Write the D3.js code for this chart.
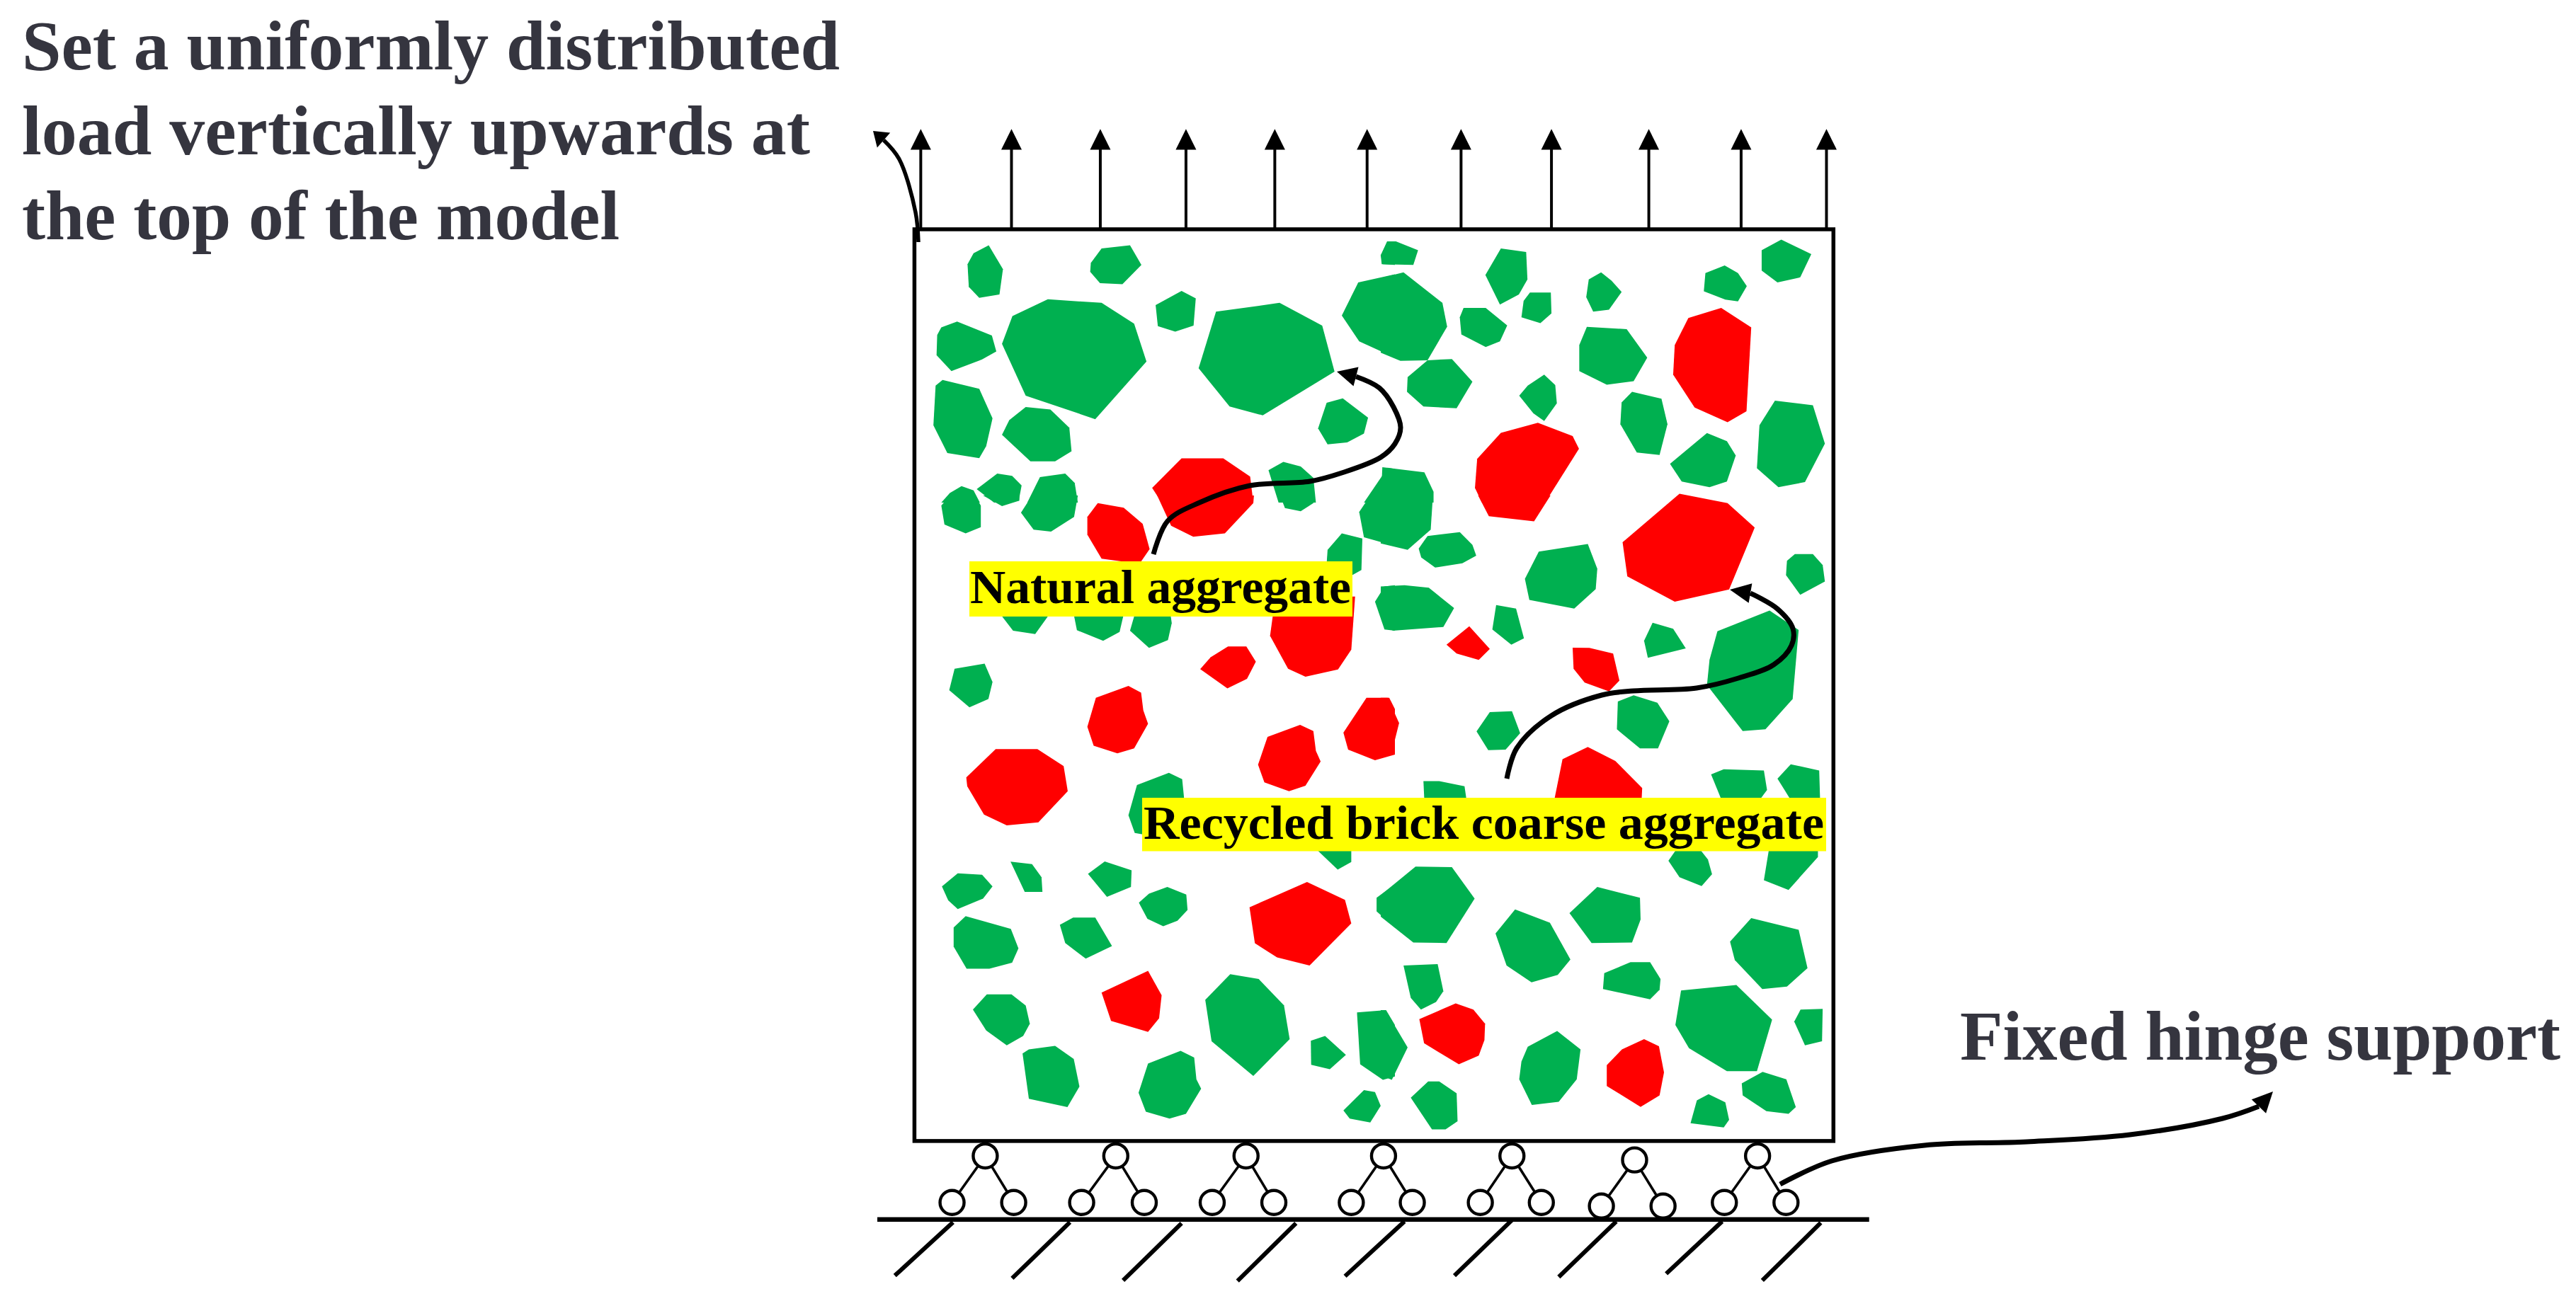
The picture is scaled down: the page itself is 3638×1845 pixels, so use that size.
<!DOCTYPE html>
<html>
<head>
<meta charset="utf-8">
<script src="https://cdn.jsdelivr.net/npm/d3@7/dist/d3.min.js"></script>
<style>html,body{margin:0;padding:0;background:#fff}svg{display:block}</style>
</head>
<body>
<svg id="chart" width="3638" height="1845"></svg>
<script>
// Aggregate outlines, read region by region from the picture. Each region has its own reading grid 0..1568.
const greenA = [
[[283,550],[235,582],[216,625],[220,715],[253,758],[317,745],[328,645]],
[[640,563],[730,550],[766,628],[706,704],[635,700],[604,655],[606,620]],
[[893,731],[938,760],[931,868],[873,892],[818,870],[811,787]],
[[470,764],[640,778],[743,860],[782,1010],[620,1238],[400,1145],[325,940],[358,830]],
[[183,852],[293,907],[307,970],[262,1002],[165,1048],[118,985],[120,905],[133,875]],
[[137,1083],[253,1118],[295,1235],[275,1345],[253,1392],[152,1372],[108,1262],[115,1105]],
[[400,1190],[478,1200],[538,1272],[545,1365],[493,1405],[415,1405],[325,1300],[348,1242]],
[[1002,813],[1203,778],[1338,868],[1377,1050],[1150,1223],[1045,1188],[947,1037]],
[[1352,1173],[1403,1156],[1483,1232],[1470,1295],[1417,1330],[1355,1338],[1325,1275]],
[[1452,697],[1568,665],[1568,995],[1455,930],[1400,828]],
[[1545,535],[1568,535],[1568,628],[1530,625],[1523,590]],
[[197,1503],[235,1520],[255,1568],[133,1568],[160,1530]],
[[310,1453],[357,1462],[387,1500],[378,1560],[340,1568],[300,1568],[245,1515]],
[[445,1467],[525,1453],[555,1490],[565,1568],[405,1568]],
[[1168,1440],[1215,1407],[1270,1425],[1310,1470],[1318,1568],[1200,1568]],
[[1545,1430],[1568,1435],[1568,1568],[1470,1568]]
];
const redA = [
[[893,1393],[1025,1393],[1110,1465],[1120,1568],[830,1568],[800,1510]]
];
const greenB = [
[[0,680],[72,657],[195,778],[210,872],[148,1005],[62,1007],[0,975]],
[[20,535],[48,535],[118,570],[103,628],[3,625],[0,590]],
[[380,563],[460,577],[464,685],[437,745],[377,785],[331,668]],
[[472,737],[538,737],[540,820],[505,858],[445,835],[452,770]],
[[262,798],[332,798],[400,867],[377,930],[332,953],[255,903],[250,835]],
[[697,657],[730,690],[762,735],[722,805],[672,813],[650,755],[658,685]],
[[1088,630],[1130,660],[1158,712],[1130,772],[1090,765],[1022,732],[1027,660]],
[[1267,528],[1362,585],[1327,677],[1255,697],[1205,650],[1205,570]],
[[148,1005],[225,1000],[290,1090],[240,1195],[135,1188],[83,1130],[85,1072]],
[[517,1062],[552,1103],[557,1175],[517,1245],[483,1215],[438,1145],[465,1105]],
[[652,873],[778,882],[843,995],[800,1088],[715,1102],[628,1048],[628,945]],
[[795,1130],[888,1157],[907,1258],[882,1380],[810,1370],[758,1258],[762,1172]],
[[1032,1293],[1095,1325],[1123,1382],[1095,1485],[1040,1507],[952,1485],[915,1415]],
[[1247,1165],[1367,1183],[1405,1335],[1342,1487],[1258,1507],[1190,1432],[1198,1262]],
[[5,1428],[138,1448],[167,1525],[167,1568],[0,1568]]
];
const redB = [
[[1077,798],[1172,875],[1157,1207],[1097,1250],[993,1192],[925,1062],[930,945],[973,838]],
[[497,1252],[607,1305],[627,1355],[520,1568],[320,1568],[298,1510],[305,1395],[380,1292]]
];
const greenC = [
[[133,40],[160,0],[240,0],[258,40],[258,125],[210,150],[143,115]],
[[265,0],[380,0],[380,20],[325,42]],
[[420,0],[565,0],[553,85],[480,143],[425,135],[385,68]],
[[1205,0],[1315,0],[1310,30],[1270,62],[1220,50]],
[[1455,65],[1490,0],[1568,0],[1568,200],[1470,165]],
[[320,470],[475,470],[430,548],[360,535]],
[[552,470],[710,470],[697,540],[645,575],[562,533]],
[[745,470],[858,470],[862,505],[850,572],[790,603],[730,535]],
[[1400,150],[1465,170],[1462,295],[1433,315],[1400,300],[1352,270],[1355,215]],
[[1505,420],[1535,360],[1568,355],[1568,535],[1535,530]],
[[175,685],[270,665],[295,738],[282,805],[222,838],[158,770]],
[[752,1145],[853,1097],[895,1122],[902,1210],[790,1345],[745,1335],[725,1265]],
[[1320,1400],[1430,1400],[1430,1450],[1387,1480]],
[[352,1448],[420,1458],[450,1510],[453,1568],[397,1568]]
];
const redC = [
[[816,0],[1122,0],[1120,30],[1030,150],[930,163],[860,120]],
[[628,30],[710,48],[770,112],[792,212],[760,270],[640,250],[595,155],[595,85]],
[[1190,400],[1442,400],[1430,610],[1388,688],[1285,717],[1230,685],[1173,555]],
[[952,687],[985,640],[1040,597],[1098,597],[1128,657],[1100,725],[1038,763]],
[[622,800],[725,753],[765,780],[772,850],[787,903],[743,1000],[690,1020],[615,990],[595,915]],
[[305,1003],[437,1003],[520,1070],[533,1170],[440,1293],[340,1305],[268,1262],[215,1150],[212,1115]],
[[1165,955],[1268,907],[1310,932],[1318,1010],[1333,1052],[1285,1148],[1233,1170],[1155,1135],[1135,1065]],
[[1405,938],[1478,800],[1550,800],[1568,845],[1568,1025],[1505,1047],[1420,1005]]
];
const greenD = [
[[0,0],[165,0],[158,135],[85,215],[0,190]],
[[120,210],[148,160],[250,145],[290,195],[302,238],[258,268],[172,285],[128,245]],
[[500,222],[655,192],[685,290],[680,370],[612,447],[470,413],[456,330]],
[[0,360],[75,355],[152,365],[232,445],[198,520],[38,535],[0,470]],
[[365,433],[428,447],[453,565],[413,590],[353,530]],
[[860,503],[925,527],[965,605],[845,642],[833,575]],
[[1285,258],[1310,232],[1367,232],[1398,275],[1405,340],[1327,393],[1282,315]],
[[1065,537],[1230,455],[1322,532],[1303,805],[1217,925],[1145,932],[1032,750],[1040,650]],
[[345,857],[415,853],[441,940],[395,1005],[340,1007],[303,933]],
[[800,790],[875,820],[913,893],[877,1000],[820,1000],[747,925],[750,815]],
[[135,1130],[185,1130],[265,1150],[272,1210],[138,1210]],
[[1045,1103],[1085,1083],[1212,1088],[1222,1165],[1195,1210],[1080,1210]],
[[1255,1120],[1297,1063],[1387,1088],[1390,1210],[1300,1210]],
[[910,1445],[935,1400],[1010,1400],[1035,1440],[1048,1498],[1015,1545],[945,1510]],
[[1228,1400],[1383,1400],[1383,1430],[1290,1560],[1212,1522]]
];
const redD = [
[[945,-7],[1097,30],[1183,127],[1102,372],[930,420],[780,320],[765,185]],
[[308,0],[537,0],[485,102],[342,82]],
[[280,517],[345,607],[310,650],[240,625],[208,590]],
[[607,602],[660,603],[735,625],[755,732],[722,775],[645,740],[610,685]],
[[0,800],[22,800],[58,900],[35,1015],[0,1035]],
[[575,1043],[655,995],[742,1050],[827,1157],[825,1210],[548,1210]]
];
const greenE = [
[[135,58],[185,10],[262,15],[295,58],[265,103],[185,142],[155,110]],
[[597,12],[650,-34],[735,-1],[733,60],[657,97]],
[[758,118],[790,85],[848,60],[908,88],[912,145],[880,185],[835,205],[785,178]],
[[210,168],[353,215],[377,287],[357,340],[285,362],[213,362],[172,280],[172,210]],
[[508,200],[550,173],[620,173],[673,278],[590,325],[525,267]],
[[233,513],[277,457],[355,457],[400,498],[413,565],[392,610],[340,645],[275,590]],
[[968,477],[1047,382],[1137,400],[1217,497],[1235,622],[1120,758],[988,630]],
[[390,675],[410,660],[493,647],[552,695],[570,797],[532,873],[410,842]],
[[787,712],[890,665],[933,690],[940,770],[955,805],[907,898],[855,915],[780,890],[757,820]],
[[1302,628],[1347,610],[1413,680],[1362,733],[1303,717]],
[[1448,523],[1540,515],[1568,570],[1568,760],[1530,772],[1458,715]],
[[1470,810],[1505,817],[1523,868],[1490,930],[1425,915],[1405,885]],
[[1510,100],[1568,50],[1568,210],[1510,150]]
];
const redE = [
[[1108,135],[1290,42],[1410,108],[1430,195],[1298,350],[1195,320],[1125,268]],
[[640,450],[787,370],[830,460],[822,545],[787,595],[670,555]]
];
const greenF = [
[[0,90],[110,-15],[225,-13],[297,103],[208,267],[103,265],[0,170]],
[[597,157],[685,60],[820,100],[822,180],[795,265],[667,267]],
[[0,515],[15,515],[85,653],[35,772],[0,755]],
[[425,143],[535,192],[600,328],[560,385],[477,412],[398,350],[363,232]],
[[703,437],[707,378],[790,338],[852,338],[885,400],[882,440],[852,475]],
[[1172,175],[1322,218],[1350,360],[1285,428],[1207,437],[1120,330],[1105,262]],
[[950,442],[1125,422],[1238,550],[1190,740],[1095,740],[975,655],[932,570]],
[[1328,513],[1398,510],[1396,630],[1342,645],[1308,557]],
[[72,350],[180,345],[198,445],[175,485],[127,513],[95,470]],
[[95,838],[150,778],[185,778],[240,822],[243,925],[205,955],[162,955]],
[[465,650],[558,592],[632,660],[620,770],[563,853],[478,865],[438,770],[445,705]],
[[1000,848],[1037,825],[1090,855],[1102,920],[1085,948],[980,932]],
[[1142,785],[1208,743],[1283,770],[1313,873],[1290,898],[1220,888],[1145,830]]
];
const redF = [
[[122,548],[237,490],[293,513],[330,565],[328,625],[310,683],[247,715],[137,637]],
[[715,718],[763,660],[833,622],[880,648],[896,745],[882,830],[822,872],[715,795]]
];

// Load arrows: stations along the top edge, in regions A and B
const loadStationsA = [68,355,636,907,1188,1480];
const loadStationsB = [254,540,848,1140,1410];
// Hinge supports: top circle, left circle, right circle
const hingesE = [
[[272,1053],[167,1225],[362,1225]],
[[685,1053],[577,1225],[775,1225]],
[[1097,1053],[990,1225],[1185,1225]],
[[1532,1053],[1430,1225],[1623,1225]]
];
const hingesF = [
[[415,1053],[315,1225],[508,1225]],
[[803,1068],[698,1238],[893,1238]],
[[1192,1053],[1087,1225],[1282,1225]]
];
// Ground hatches: [top, bottom]
const hatchesE = [
[[170,1298],[-14,1495]],[[540,1298],[357,1505]],[[893,1302],[708,1513]],[[1255,1302],[1070,1515]]
];
const hatchesF = [
[[75,1295],[-113,1497]],[[415,1290],[233,1495]],[[745,1295],[563,1500]],[[1080,1295],[903,1488]],[[1392,1300],[1207,1513]]
];
// Leader curves in page units; last entry is the base of the head, tip is the head's point
const leaderLoad = [[1297,342],[1293,300],[1270,225],[1248,198]];
const tipLoad = [1233,185];
const leaderNatural = [[1629,783],[1649,736],[1694,710],[1765,686],[1850,680],[1895,668],[1950,646],[1970,627],[1978,604],[1968,575],[1948,548],[1915,532]];
const tipNatural = [1888,525];
const leaderRecycled = [[2128,1100],[2142,1057],[2191,1011],[2262,982],[2307,976],[2396,972],[2455,958],[2505,939],[2530,912],[2532,888],[2510,860],[2472,838]];
const tipRecycled = [2443,833];
const leaderHinge = [[2514,1673],[2587,1640],[2718,1618],[2863,1613],[3008,1603],[3139,1580],[3190,1563]];
const tipHinge = [3210,1542];

// Texts
const loadText = ["Set a uniformly distributed","load vertically upwards at","the top of the model"];
const hingeText = "Fixed hinge support";
const naturalText = "Natural aggregate";
const recycledText = "Recycled brick coarse aggregate";

const GREEN = "#00b050", RED = "#ff0000", YELLOW = "#ffff00", INK = "#35353f";

function region(x0,y0,w,h){
  const sx = d3.scaleLinear().domain([0,1568]).range([x0,x0+w]);
  const sy = d3.scaleLinear().domain([0,1568]).range([y0,y0+h]);
  return p => [sx(p[0]), sy(p[1])];
}
const A = region(1270,150,700,560), B = region(1950,150,700,560),
      C = region(1270,700,700,560), D = region(1950,700,700,560),
      E = region(1270,1230,700,600), F = region(1950,1230,700,600);

const svg = d3.select("#chart");
svg.append("rect").attr("width",3638).attr("height",1845).attr("fill","#fff");

const line = d3.line();
const closed = d3.line().curve(d3.curveLinearClosed);
const smooth = d3.line().curve(d3.curveCatmullRom.alpha(0.5));

// Box
const TL = A([48,487]), BR = [B([1432,0])[0], E([0,998])[1]];
svg.append("rect").attr("x",TL[0]).attr("y",TL[1]).attr("width",BR[0]-TL[0]).attr("height",BR[1]-TL[1])
   .attr("fill","#fff").attr("stroke","#000").attr("stroke-width",5.5);

// Aggregates
const gAgg = svg.append("g");
[[greenA,A,GREEN],[redA,A,RED],[greenB,B,GREEN],[redB,B,RED],[greenC,C,GREEN],[redC,C,RED],
 [greenD,D,GREEN],[redD,D,RED],[greenE,E,GREEN],[redE,E,RED],[greenF,F,GREEN],[redF,F,RED]]
 .forEach(([polys,r,col])=>{
   gAgg.append("g").selectAll("path").data(polys).join("path")
     .attr("d",d=>closed(d.map(r))).attr("fill",col);
 });

// Load arrows
const gLoad = svg.append("g");
const stations = loadStationsA.map(x=>A([x,0])[0]).concat(loadStationsB.map(x=>B([x,0])[0]));
const tipY = A([0,90])[1], baseY = A([0,172])[1];
gLoad.selectAll("line").data(stations).join("line")
  .attr("x1",d=>d).attr("x2",d=>d).attr("y1",baseY-2).attr("y2",TL[1])
  .attr("stroke","#000").attr("stroke-width",4);
gLoad.selectAll("path").data(stations).join("path")
  .attr("d",d=>closed([[d,tipY],[d+14.5,baseY],[d-14.5,baseY]])).attr("fill","#000");

// Hinge supports
const gHinge = svg.append("g");
function drawHinge(h,r){
  const [t,l,rt] = h.map(r);
  const R = 17;
  [l,rt].forEach(c=>{
    gHinge.append("line").attr("x1",t[0]).attr("y1",t[1]).attr("x2",c[0]).attr("y2",c[1])
      .attr("stroke","#000").attr("stroke-width",3.6);
  });
  [t,l,rt].forEach(c=>{
    gHinge.append("circle").attr("cx",c[0]).attr("cy",c[1]).attr("r",R)
      .attr("fill","#fff").attr("stroke","#000").attr("stroke-width",4.4);
  });
}
hingesE.forEach(h=>drawHinge(h,E));
hingesF.forEach(h=>drawHinge(h,F));

// Ground
const groundY = E([0,1288])[1];
svg.append("line").attr("x1",1239).attr("x2",F([1545,0])[0]).attr("y1",groundY).attr("y2",groundY)
   .attr("stroke","#000").attr("stroke-width",6.5);
const gHatch = svg.append("g");
[[hatchesE,E],[hatchesF,F]].forEach(([hs,r])=>{
  gHatch.append("g").selectAll("path").data(hs).join("path")
    .attr("d",d=>line(d.map(r))).attr("stroke","#000").attr("stroke-width",6).attr("fill","none");
});

// Yellow labels
function label(text,rx0,rx1,ry0,ry1,tx,tw,base){
  svg.append("rect").attr("x",rx0).attr("y",ry0).attr("width",rx1-rx0).attr("height",ry1-ry0).attr("fill",YELLOW);
  svg.append("text").attr("x",tx).attr("y",base).text(text)
    .attr("font-family","'Liberation Serif',serif").attr("font-weight",700).attr("font-size",68)
    .attr("fill","#000").attr("textLength",tw).attr("lengthAdjust","spacingAndGlyphs");
}
label(naturalText,1369,1910,793,871,1370,538,852);
label(recycledText,1613,2579,1127,1202.5,1615,961,1185);

// Leaders
function leader(pts,tip,w){
  svg.append("path").attr("d",smooth(pts)).attr("fill","none").attr("stroke","#000").attr("stroke-width",w);
  const b = pts[pts.length-1];
  const dx = tip[0]-b[0], dy = tip[1]-b[1], n = Math.hypot(dx,dy), hw = 14;
  svg.append("path").attr("d",closed([tip,[b[0]-dy/n*hw,b[1]+dx/n*hw],[b[0]+dy/n*hw,b[1]-dx/n*hw]])).attr("fill","#000");
}
leader(leaderLoad,tipLoad,5.5);
leader(leaderNatural,tipNatural,7);
leader(leaderRecycled,tipRecycled,7);
leader(leaderHinge,tipHinge,7);

// Dark headings
const bigText = (t,x,y,w)=>svg.append("text").attr("x",x).attr("y",y).text(t)
   .attr("font-family","'Liberation Serif',serif").attr("font-weight",700).attr("font-size",100)
   .attr("fill",INK).attr("textLength",w).attr("lengthAdjust","spacingAndGlyphs");
const loadWidths = [1155,1113,844], loadBase = [98,218,338];
loadText.forEach((t,i)=>bigText(t,31,loadBase[i],loadWidths[i]));
bigText(hingeText,2768,1497,848);
</script>
</body>
</html>
